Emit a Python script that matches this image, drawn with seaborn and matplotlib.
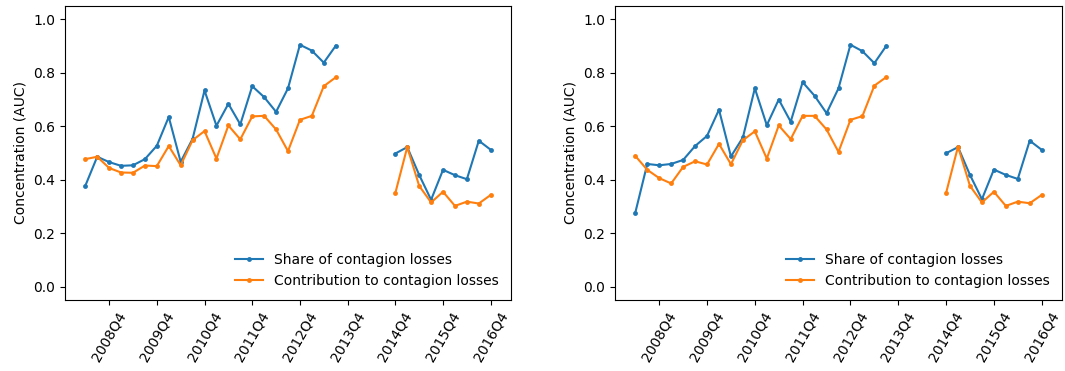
import numpy as np
import pandas as pd
import matplotlib
matplotlib.use("Agg")
import matplotlib.pyplot as plt
import seaborn as sns

# Quarters of the two observed segments
seg1_start, seg1_end = "2008Q2", "2013Q3"
seg2_start, seg2_end = "2014Q4", "2016Q4"

series_names = ["Share of contagion losses", "Contribution to contagion losses"]

# Left panel
left_share_1 = [0.377, 0.486, 0.466, 0.452, 0.454, 0.477, 0.527, 0.635, 0.467, 0.553, 0.734,
                0.602, 0.684, 0.607, 0.750, 0.709, 0.654, 0.742, 0.905, 0.883, 0.838, 0.901]
left_share_2 = [0.498, 0.522, 0.418, 0.325, 0.437, 0.417, 0.402, 0.546, 0.512]
left_contrib_1 = [0.477, 0.486, 0.444, 0.427, 0.426, 0.453, 0.451, 0.526, 0.454, 0.548, 0.582,
                  0.479, 0.603, 0.551, 0.637, 0.639, 0.588, 0.507, 0.624, 0.639, 0.750, 0.783]
left_contrib_2 = [0.350, 0.522, 0.377, 0.315, 0.355, 0.302, 0.318, 0.311, 0.343]

# Right panel
right_share_1 = [0.277, 0.459, 0.454, 0.459, 0.474, 0.526, 0.564, 0.662, 0.487, 0.558, 0.742,
                 0.604, 0.700, 0.617, 0.765, 0.714, 0.649, 0.742, 0.905, 0.881, 0.836, 0.901]
right_share_2 = [0.499, 0.522, 0.418, 0.327, 0.438, 0.418, 0.403, 0.546, 0.512]
right_contrib_1 = [0.489, 0.437, 0.406, 0.386, 0.448, 0.469, 0.457, 0.534, 0.458, 0.548, 0.581,
                   0.479, 0.603, 0.552, 0.639, 0.639, 0.588, 0.504, 0.624, 0.638, 0.752, 0.784]
right_contrib_2 = [0.350, 0.524, 0.377, 0.315, 0.355, 0.302, 0.318, 0.312, 0.343]

tick_labels = ["2008Q4", "2009Q4", "2010Q4", "2011Q4", "2012Q4",
               "2013Q4", "2014Q4", "2015Q4", "2016Q4"]
y_ticks = [0.0, 0.2, 0.4, 0.6, 0.8, 1.0]


def qnum(p):
    return p.year + (p.quarter - 1) / 4.0


def build(share1, share2, contrib1, contrib2):
    rows = []
    q1 = pd.period_range(seg1_start, seg1_end, freq="Q")
    q2 = pd.period_range(seg2_start, seg2_end, freq="Q")
    for name, a, b in [(series_names[0], share1, share2), (series_names[1], contrib1, contrib2)]:
        for p, v in zip(q1, a):
            rows.append({"x": qnum(p), "value": v, "series": name, "segment": 1})
        for p, v in zip(q2, b):
            rows.append({"x": qnum(p), "value": v, "series": name, "segment": 2})
    return pd.DataFrame(rows)


panels = [build(left_share_1, left_share_2, left_contrib_1, left_contrib_2),
          build(right_share_1, right_share_2, right_contrib_1, right_contrib_2)]

plt.rcParams["font.family"] = ["DejaVu Sans"]
plt.rcParams["font.size"] = 10

fig = plt.figure(figsize=(10.65, 3.71), dpi=100)
W, H = 1065, 371
ax_l = fig.add_axes([65 / W, (H - 300) / H, 446 / W, 294 / H])
ax_r = fig.add_axes([615 / W, (H - 300) / H, 447 / W, 294 / H])

palette = ["#1f77b4", "#ff7f0e"]
tick_pos = [2008.75 + i for i in range(len(tick_labels))]

for ax, df in zip([ax_l, ax_r], panels):
    sns.lineplot(data=df, x="x", y="value", hue="series", units="segment",
                 estimator=None, palette=palette, hue_order=series_names,
                 marker=".", markersize=7, markeredgecolor="auto",
                 markeredgewidth=0, linewidth=1.5, ax=ax)
    ax.set_ylim(-0.05, 1.05)
    ax.set_yticks(y_ticks)
    ax.set_yticklabels([f"{t:.1f}" for t in y_ticks], fontsize=10)
    ax.set_xticks(tick_pos)
    ax.set_xticklabels(tick_labels, rotation=60, fontsize=10)
    ax.set_xlabel("")
    ax.set_ylabel("Concentration (AUC)", fontsize=10)
    ax.grid(False)
    leg = ax.legend(loc="lower right", frameon=False, fontsize=10)

fig.savefig("out.png", dpi=100)
